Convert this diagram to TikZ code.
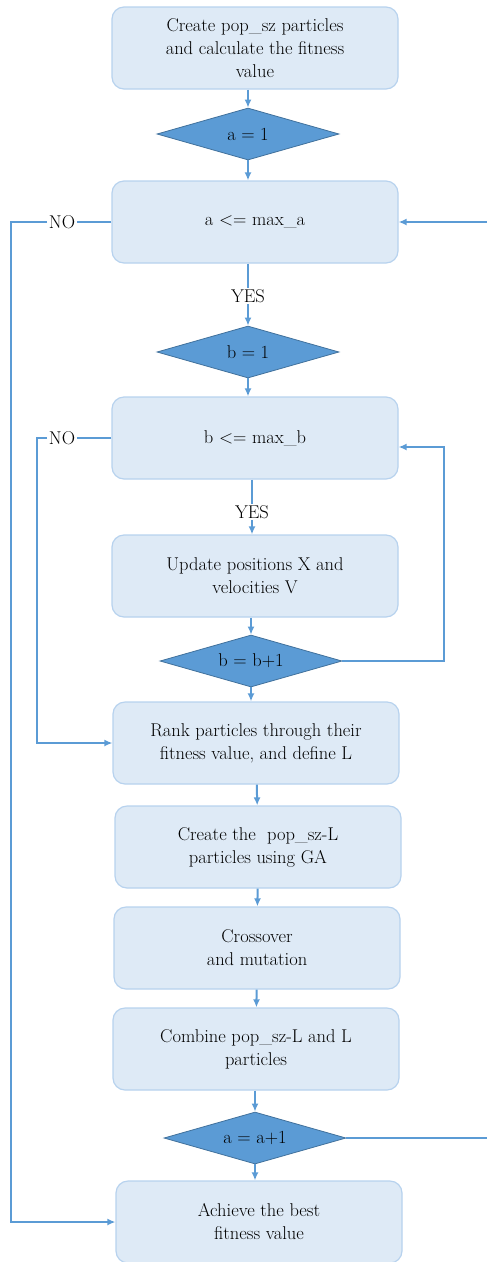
\documentclass[tikz,border=0pt]{standalone}
\usepackage{tikz}
\usetikzlibrary{shapes.geometric}
\usetikzlibrary{arrows.meta}
\usepackage{xcolor}
\definecolor{boxfill}{HTML}{DEEAF6}
\definecolor{boxline}{HTML}{B7D2EE}
\definecolor{diafill}{HTML}{5B9BD5}
\definecolor{dialine}{HTML}{41719C}
\definecolor{flow}{HTML}{5B9BD5}

\begin{document}
\begin{tikzpicture}[x=1pt, y=-1pt, >={Latex[length=8pt, width=7pt]}, line width=1.6pt,
    procbox/.style={draw=boxline, fill=boxfill, line width=1.2pt, rounded corners=12pt,
      minimum width=286pt, minimum height=82pt, align=center, font=\fontsize{18.5}{23}\selectfont},
    testdia/.style={draw=dialine, fill=diafill, line width=0.8pt, diamond, aspect=3.5, inner sep=0pt,
      minimum width=182pt, minimum height=52pt, font=\fontsize{18.5}{20}\selectfont},
    lbl/.style={inner sep=1pt, font=\fontsize{18.5}{20}\selectfont},
    flowline/.style={draw=flow, line width=2pt}]
      \useasboundingbox (0,0) rectangle (487,1262);
      \clip (0,0) rectangle (487,1262);

      % main column
      \node [procbox, name=create] at (255,48) {Create pop\_sz particles\\and calculate the fitness\\value};
      \node [testdia, name=aone] at (248,134) {a = 1};
      \node [procbox, name=checka] at (255,222) {a <= max\_a};
      \node [lbl, name=yesa] at (248,296) {YES};
      \node [testdia, name=bone] at (248,352) {b = 1};
      \node [procbox, name=checkb] at (255,438) {b <= max\_b};
      \node [lbl, name=yesb] at (252,512) {YES};
      \node [procbox, name=update] at (255,576) {Update positions X and\\velocities V};
      \node [testdia, name=bplus] at (251,661) {b = b+1};
      \node [procbox, name=rank] at (256,743) {Rank particles through their\\fitness value, and define L};
      \node [procbox, name=gacreate] at (258,847) {Create the~ pop\_sz-L\\particles using GA};
      \node [procbox, name=cross] at (257,948) {Crossover\\and mutation};
      \node [procbox, name=combine] at (256,1049) {Combine pop\_sz-L and L\\particles};
      \node [testdia, name=aplus] at (255,1138) {a = a+1};
      \node [procbox, name=achieve] at (259,1222) {Achieve the best\\fitness value};

      % loop labels
      \node [lbl, name=noa] at (62,222) {NO};
      \node [lbl, name=nob] at (62,438) {NO};
      \coordinate (lefta) at (11,222);
      \coordinate (leftb) at (37,438);
      \coordinate (rightb) at (444,447);
      \coordinate (rightaa) at (490,1138);
      \coordinate (righta) at (490,222);

      \draw [flowline, ->] (aone |- create.south) -- (aone);
      \draw [flowline, ->] (aone) -- (aone |- checka.north);
      \draw [flowline] (yesa |- checka.south) -- (yesa);
      \draw [flowline, ->] (yesa) -- (bone);
      \draw [flowline, ->] (bone) -- (bone |- checkb.north);
      \draw [flowline] (yesb |- checkb.south) -- (yesb);
      \draw [flowline, ->] (yesb) -- (yesb |- update.north);
      \draw [flowline, ->] (bplus |- update.south) -- (bplus);
      \draw [flowline, ->] (bplus) -- (bplus |- rank.north);
      \draw [flowline, ->] (rank) -- (gacreate);
      \draw [flowline, ->] (gacreate) -- (cross);
      \draw [flowline, ->] (cross) -- (combine);
      \draw [flowline, ->] (aplus |- combine.south) -- (aplus);
      \draw [flowline, ->] (aplus) -- (aplus |- achieve.north);

      % loops
      \draw [flowline] (checka) -- (noa);
      \draw [flowline, ->] (noa) -- (lefta) |- (achieve);
      \draw [flowline] (checkb) -- (nob);
      \draw [flowline, ->] (nob) -- (leftb) |- (rank);
      \draw [flowline, ->] (bplus) -| (rightb) -- (checkb.east |- rightb);
      \draw [flowline, ->] (aplus) -- (rightaa) -- (righta) -- (checka);
    \end{tikzpicture}
\end{document}
